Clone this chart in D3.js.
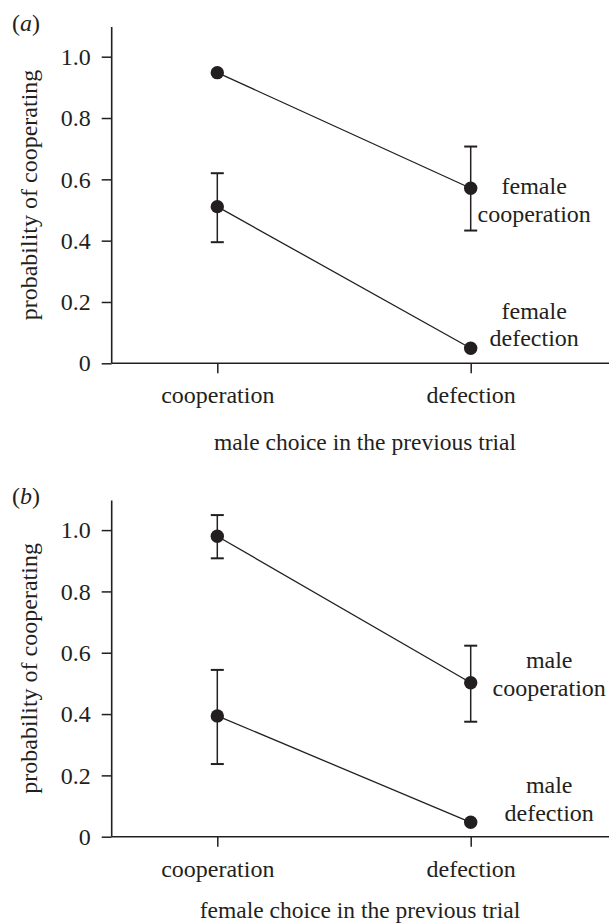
<!DOCTYPE html>
<html>
<head>
<meta charset="utf-8">
<script src="https://cdn.jsdelivr.net/npm/d3@7"></script>
<style>
  html, body { margin: 0; padding: 0; background: #fff; }
  svg { display: block; }
</style>
</head>
<body>
<svg id="chart" width="609" height="924"></svg>
<script>
// ---- data ----
const categories = ["cooperation", "defection"];
const yTickValues = [0, 0.2, 0.4, 0.6, 0.8, 1.0];

// panel (a): female probability of cooperating vs male previous choice
const aCoopMean = [0.948, 0.571];
const aCoopLow  = [null, 0.433];
const aCoopHigh = [null, 0.707];
const aDefMean  = [0.511, 0.049];
const aDefLow   = [0.395, null];
const aDefHigh  = [0.620, null];

// panel (b): male probability of cooperating vs female previous choice
const bCoopMean = [0.980, 0.502];
const bCoopLow  = [0.908, 0.375];
const bCoopHigh = [1.049, 0.623];
const bDefMean  = [0.394, 0.047];
const bDefLow   = [0.237, null];
const bDefHigh  = [0.544, null];

const panels = [
  { tag: "a", xTitle: "male choice in the previous trial", yTitle: "probability of cooperating",
    series: [
      { label: ["female", "cooperation"], mean: aCoopMean, low: aCoopLow, high: aCoopHigh },
      { label: ["female", "defection"], mean: aDefMean, low: aDefLow, high: aDefHigh }
    ] },
  { tag: "b", xTitle: "female choice in the previous trial", yTitle: "probability of cooperating",
    series: [
      { label: ["male", "cooperation"], mean: bCoopMean, low: bCoopLow, high: bCoopHigh },
      { label: ["male", "defection"], mean: bDefMean, low: bDefLow, high: bDefHigh }
    ] }
];

// ---- layout ----
const ink = "#231f20";
const FONT = "'Liberation Serif', 'Times New Roman', Times, serif";
const FS = 24;
const svg = d3.select("#chart");
const panelTop = [0, 473.4];
const axisX = 111.7, axisBottom = 363.3, axisTop = 27, rightEnd = 609;
const labelDx = [63.5, 78.5];
const xTitleY = [450, 445];
const xTitleX = [365, 360];
// label baselines for the two series (first line), relative to panel
const labelY = [[194, 318.5], [668.3 - 473.4, 793.3 - 473.4]];

function styleText(sel, fs) {
  return sel.style("font-family", FONT).style("font-size", (fs || FS) + "px").style("fill", ink);
}

panels.forEach((p, pi) => {
  const g = svg.append("g").attr("transform", `translate(0,${panelTop[pi]})`);

  const y = d3.scaleLinear().domain([0, 1]).range([axisBottom, 56.7]);
  const x = d3.scalePoint().domain(categories).range([217.3, 470.7]);

  // y axis
  const yAxis = d3.axisLeft(y).tickValues(yTickValues)
    .tickFormat(d => d === 0 ? "0" : d3.format(".1f")(d))
    .tickSize(10).tickPadding(11).tickSizeOuter(0);
  const yg = g.append("g").attr("transform", `translate(${axisX},0)`).call(yAxis);
  yg.select(".domain").remove();
  yg.selectAll(".tick line").attr("stroke", ink).attr("stroke-width", 1.5);
  styleText(yg.selectAll(".tick text"));
  g.append("line").attr("x1", axisX).attr("x2", axisX).attr("y1", axisTop).attr("y2", axisBottom)
    .attr("stroke", ink).attr("stroke-width", 1.6);

  // x axis
  const xAxis = d3.axisBottom(x).tickSize(10).tickPadding(13).tickSizeOuter(0);
  const xg = g.append("g").attr("transform", `translate(0,${axisBottom})`).call(xAxis);
  xg.select(".domain").remove();
  xg.selectAll(".tick line").attr("stroke", ink).attr("stroke-width", 1.5);
  styleText(xg.selectAll(".tick text"));
  g.append("line").attr("x1", axisX).attr("x2", rightEnd).attr("y1", axisBottom).attr("y2", axisBottom)
    .attr("stroke", ink).attr("stroke-width", 1.6);

  // titles
  styleText(g.append("text").attr("x", xTitleX[pi]).attr("y", xTitleY[pi]).attr("text-anchor", "middle"), 23.5)
    .text(p.xTitle);
  styleText(g.append("text").attr("transform", `translate(37,195) rotate(-90)`)
    .attr("text-anchor", "middle")).text(p.yTitle);
  const tag = styleText(g.append("text").attr("x", 12).attr("y", 31));
  tag.append("tspan").text("(");
  tag.append("tspan").style("font-style", "italic").text(p.tag);
  tag.append("tspan").text(")");

  // series
  p.series.forEach((s, si) => {
    const pts = categories.map((c, i) => ({ c, m: s.mean[i], lo: s.low[i], hi: s.high[i] }));
    g.append("path").datum(pts)
      .attr("d", d3.line().x(d => x(d.c)).y(d => y(d.m)))
      .attr("fill", "none").attr("stroke", ink).attr("stroke-width", 1.3);
    const eb = pts.filter(d => d.lo != null);
    g.selectAll(null).data(eb).enter().append("line")
      .attr("x1", d => x(d.c)).attr("x2", d => x(d.c))
      .attr("y1", d => y(d.lo)).attr("y2", d => y(d.hi))
      .attr("stroke", ink).attr("stroke-width", 1.5);
    ["lo", "hi"].forEach(k => {
      g.selectAll(null).data(eb).enter().append("line")
        .attr("x1", d => x(d.c) - 6.5).attr("x2", d => x(d.c) + 6.5)
        .attr("y1", d => y(d[k])).attr("y2", d => y(d[k]))
        .attr("stroke", ink).attr("stroke-width", 2);
    });
    g.selectAll(null).data(pts).enter().append("circle")
      .attr("cx", d => x(d.c)).attr("cy", d => y(d.m)).attr("r", 6.7).attr("fill", ink);

    // series label beside last point
    const last = pts[pts.length - 1];
    const lx = x(last.c) + labelDx[pi];
    const ly = labelY[pi][si];
    const t = styleText(g.append("text").attr("x", lx).attr("text-anchor", "middle"));
    t.append("tspan").attr("x", lx).attr("y", ly).text(s.label[0]);
    t.append("tspan").attr("x", lx).attr("y", ly + 27.5).text(s.label[1]);
  });
});
</script>
</body>
</html>
